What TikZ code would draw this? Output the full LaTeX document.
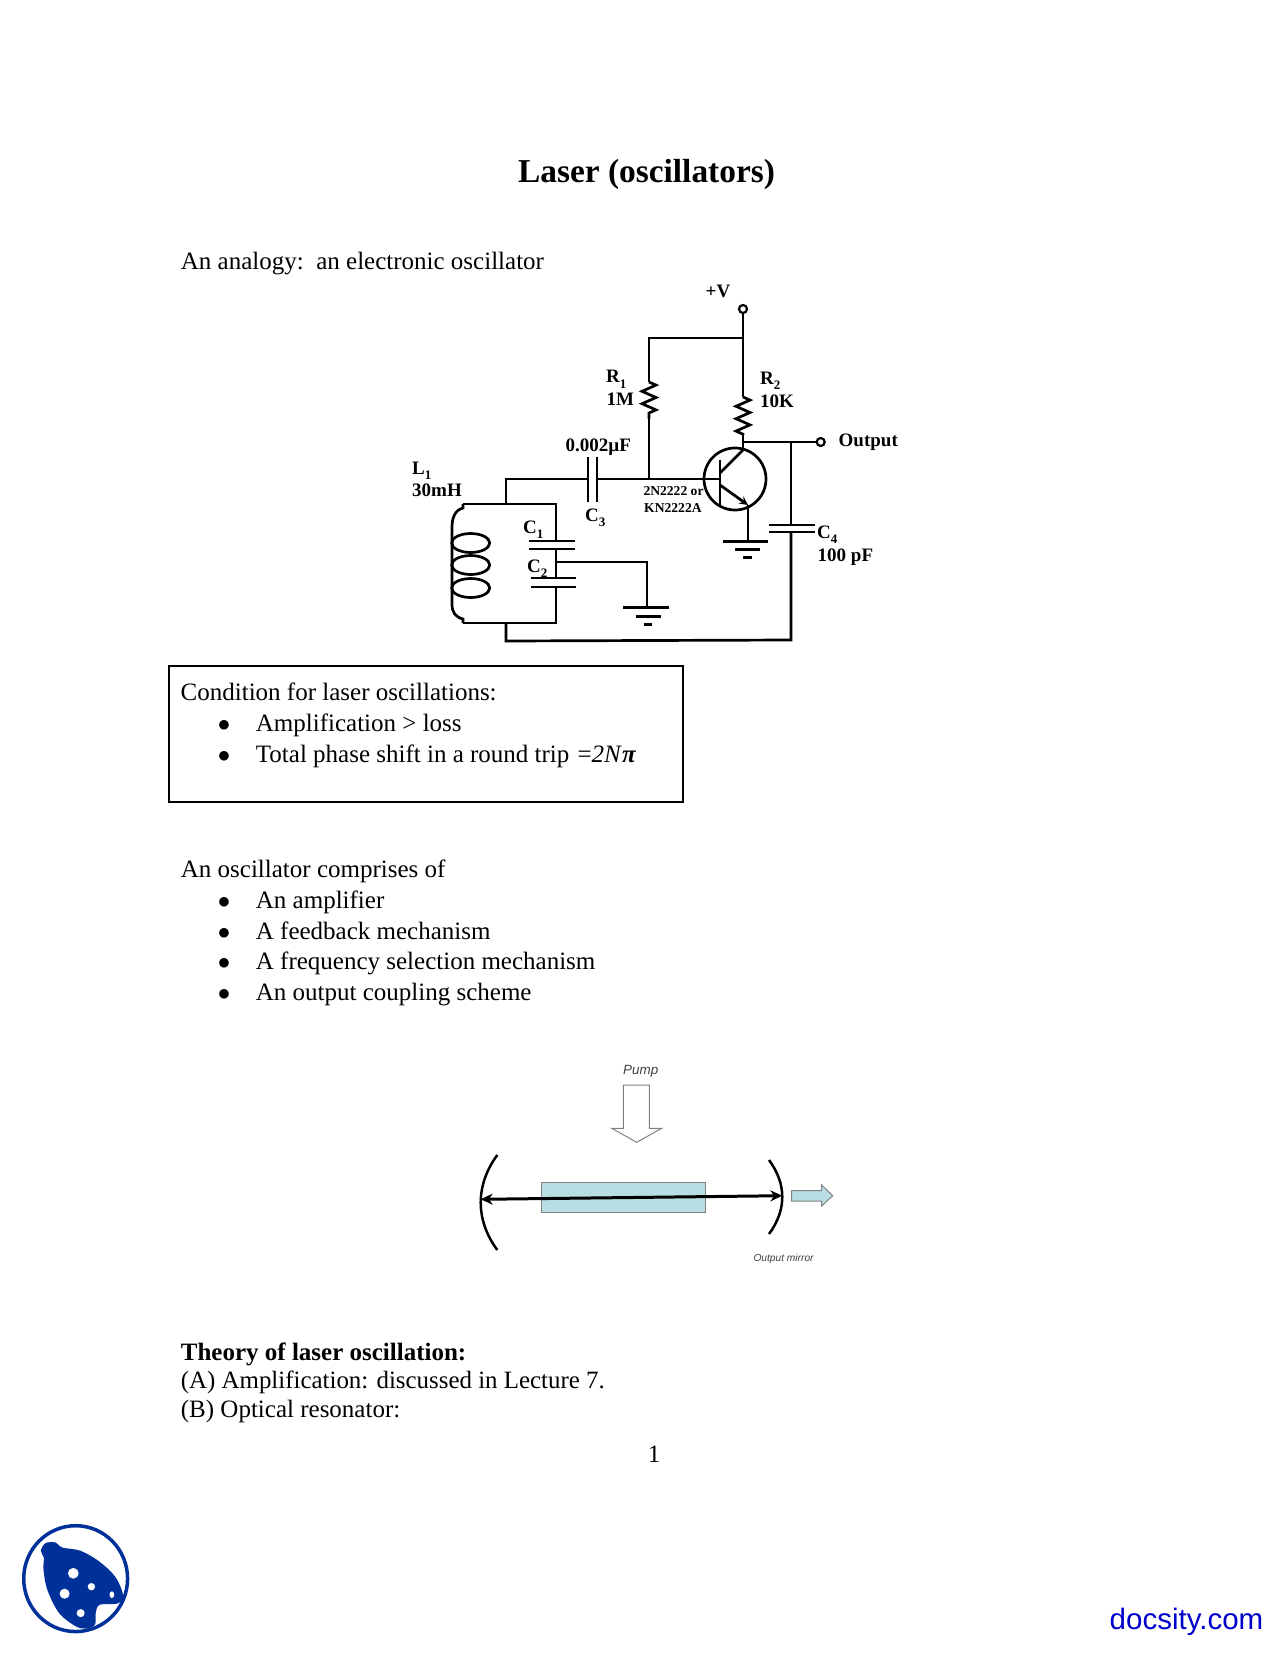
\documentclass[tikz,border=0pt]{standalone}
\usepackage{fontspec}
\setmainfont{Liberation Serif}
\newfontfamily\arialfont{Liberation Sans}
\usetikzlibrary{positioning, arrows, arrows.meta, decorations.pathmorphing, shapes.geometric}
\definecolor{rodblue}{HTML}{B8DEE3}
\definecolor{logoblue}{HTML}{00309A}
\definecolor{linkblue}{HTML}{0000CC}
\newcommand{\lowsub}[1]{\raisebox{-0.28em}{\fontsize{13}{14}\selectfont #1}}
\tikzstyle{body} = [anchor=base west, inner sep=0pt, font=\fontsize{25}{30}\selectfont]
\tikzstyle{dot} = [anchor=base, inner sep=0pt, font=\fontsize{25}{30}\selectfont]
\tikzstyle{part} = [anchor=base west, inner sep=0pt, font=\fontsize{19}{21}\selectfont\bfseries]
\tikzstyle{small} = [anchor=base west, inner sep=0pt, font=\fontsize{13.6}{15}\selectfont\bfseries]
\tikzstyle{wire} = [line width=2.7pt]
\tikzstyle{terminal} = [circle, draw, line width=2.2pt, fill=white, inner sep=0pt, minimum size=8pt]
\tikzstyle{res} = [wire, decorate, decoration={zigzag, segment length=12.4pt, amplitude=7pt}]
\tikzstyle{coil} = [ellipse, draw, line width=2.7pt, inner sep=0pt, minimum width=38pt, minimum height=19pt]
\tikzstyle{arrow} = [line width=3pt,{Stealth[length=12pt,width=11pt]}-{Stealth[length=12pt,width=11pt]}]
\tikzstyle{hollow} = [draw=black!50, line width=1pt]

\begin{document}
\begin{tikzpicture}[x=1pt, y=-1pt]
\useasboundingbox (0,0) rectangle (1280,1656);

% page text
\node (title) [anchor=base, inner sep=0pt, font=\fontsize{33.4}{36}\selectfont\bfseries] at (646.5,182.7) {Laser (oscillators)};
\node (analogy) [body] at (180.7,269) {An analogy:\ \ an electronic oscillator};
\node (condbox) [draw, line width=1.5pt, minimum width=514pt, minimum height=136pt, inner sep=0pt] at (426,734) {};
\node (cond) [body] at (180.5,700.7) {Condition for laser oscillations:};
\node (cbulA) [dot] at (224,731.7) {$\bullet$};
\node (cA) [body] at (255.7,731.7) {Amplification > loss};
\node (cbulB) [dot] at (224,762.7) {$\bullet$};
\node (cB) [body] at (255.7,762.7) {Total phase shift in a round trip\kern2pt{} =\textit{2N}\textbf{\textit{π}}};
\node (comp) [body] at (180.7,877.7) {An oscillator comprises of};
\node (bulA) [dot] at (224,908.3) {$\bullet$};
\node (itemA) [body] at (255.7,908.3) {An amplifier};
\node (bulB) [dot] at (224,939.3) {$\bullet$};
\node (itemB) [body] at (255.7,939.3) {A feedback mechanism};
\node (bulC) [dot] at (224,969.3) {$\bullet$};
\node (itemC) [body] at (255.7,969.3) {A frequency selection mechanism};
\node (bulD) [dot] at (224,1000) {$\bullet$};
\node (itemD) [body] at (255.7,1000) {An output coupling scheme};
\node (theory) [body, font=\fontsize{25}{30}\selectfont\bfseries] at (180.7,1360) {Theory of laser oscillation:};
\node (lineA) [body, font=\fontsize{24.9}{30}\selectfont] at (180.7,1388.3) {(A) Amplification: discussed in Lecture 7.};
\node (lineB) [body] at (180.7,1417.7) {(B) Optical resonator:};
\node (pageno) [dot] at (654,1462.7) {1};

% circuit points
\node (vcc) [terminal] at (743,309) {};
\node (out) [terminal] at (820.7,442) {};
\node (qone) [circle, draw, line width=2.7pt, inner sep=0pt, minimum size=62pt] at (735,479) {};
\node (coilA) [coil] at (470.7,543) {};
\node (coilB) [coil] at (470.7,565) {};
\node (coilC) [coil] at (470.7,588) {};
\coordinate (top) at (743,338);
\coordinate (topl) at (649,338);
\coordinate (raa) at (649,382);
\coordinate (rab) at (649,419);
\coordinate (base) at (649,479);
\coordinate (rba) at (743,397);
\coordinate (rbb) at (743,435);
\coordinate (coll) at (743,442);
\coordinate (collb) at (743,450);
\coordinate (bar) at (720,479);
\coordinate (cc) at (720,473);
\coordinate (ee) at (720,485);
\coordinate (emit) at (748,505);
\coordinate (gndq) at (748,541);
\coordinate (cthree) at (588,479);
\coordinate (cthreeb) at (597,479);
\coordinate (stub) at (506,479);
\coordinate (stubb) at (506,504);
\coordinate (tl) at (463,504);
\coordinate (tr) at (556,504);
\coordinate (bl) at (463,623);
\coordinate (br) at (556,623);
\coordinate (ret) at (506,623);
\coordinate (retb) at (506,641);
\coordinate (retc) at (791,640);
\coordinate (cfoura) at (791,442);
\coordinate (cfourb) at (791,525);
\coordinate (cfourc) at (791,532);
\coordinate (cone) at (556,541);
\coordinate (coneb) at (556,549);
\coordinate (mid) at (556,562);
\coordinate (ctwo) at (556,578);
\coordinate (ctwob) at (556,587);
\coordinate (gndl) at (647,562);
\coordinate (gndb) at (647,607);

% circuit wires
\draw [wire] (vcc) -- (top) -- (rba);
\draw [res] (rba) -- (rbb);
\draw [wire] (rbb) -- (collb);
\draw [wire] (top) -- (topl) -- (raa);
\draw [res] (raa) -- (rab);
\draw [wire] (rab) -- (base);
\draw [wire] (stubb) -- (stub) -- (cthree);
\draw [wire] (cthreeb) -- (bar);
\draw [wire] (cthree) ++(0,-22) -- ++(0,45);
\draw [wire] (cthreeb) ++(0,-22) -- ++(0,45);
\draw [wire] (720,460) -- (720,505);
\draw [wire] (cc) -- (collb);
\draw [wire, -stealth] (ee) -- (emit);
\draw [wire] (emit) -- (gndq);
\draw [wire] (coll) -- (out);
\draw [wire] (cfoura) -- (cfourb);
\draw [wire] (cfourc) -- (retc) -- (retb) -- (ret);
\draw [wire] (769,525) -- (815,525);
\draw [wire] (769,532) -- (815,532);
\draw [wire] (tl) -- (tr) -- (cone);
\draw [wire] (coneb) -- (ctwo);
\draw [wire] (ctwob) -- (br) -- (bl);
\draw [wire] (529,541) -- (575,541);
\draw [wire] (529,549) -- (575,549);
\draw [wire] (531,578) -- (576,578);
\draw [wire] (531,587) -- (576,587);
\draw [wire] (mid) -- (gndl) -- (gndb);
\draw [wire] (tl) -- (463,508) .. controls (455,510) and (452,518) .. (452,527) -- (452,604) .. controls (452,612) and (455,617) .. (463,619) -- (bl);

% grounds
\draw [line width=3pt] (723,541) -- (768,541);
\draw [line width=3pt] (735,549) -- (760,549);
\draw [line width=3pt] (743,557) -- (752,557);
\draw [line width=3pt] (623,607) -- (669,607);
\draw [line width=3pt] (636,616) -- (661,616);
\draw [line width=3pt] (644,624) -- (652,624);

% circuit labels
\node (vlabel) [part] at (705.5,297) {+V};
\node (rone) [part] at (606,382.7) {R\lowsub{1}};
\node (ronev) [part] at (606.5,405.7) {1M};
\node (rtwo) [part] at (760,384) {R\lowsub{2}};
\node (rtwov) [part] at (760,407.3) {10K};
\node (cthreev) [part] at (565.5,451) {0.002µF};
\node (lone) [part] at (412,474.3) {L\lowsub{1}};
\node (lonev) [part] at (412,496.7) {30mH};
\node (cthreel) [part] at (585,521) {C\lowsub{3}};
\node (qname) [small] at (643.3,495) {2N2222 or};
\node (qnameb) [small] at (644,512.3) {KN2222A};
\node (conel) [part] at (523,533.3) {C\lowsub{1}};
\node (ctwol) [part] at (527,572.3) {C\lowsub{2}};
\node (cfourl) [part] at (817,538.3) {C\lowsub{4}};
\node (cfourv) [part] at (817.5,561.7) {100 pF};
\node (outl) [part] at (838.5,446.7) {Output};

% laser
\coordinate (mla) at (497.3,1155);
\coordinate (mlb) at (497.3,1250);
\coordinate (mra) at (769,1160);
\coordinate (mrb) at (769,1234);
\coordinate (beaml) at (480.7,1199.3);
\coordinate (beamr) at (782.3,1195.7);
\node (pump) [anchor=base, inner sep=0pt, font=\arialfont\itshape\fontsize{13.4}{15}\selectfont, black!75] at (640.7,1074) {Pump};
\node (mirror) [anchor=base west, inner sep=0pt, font=\arialfont\itshape\fontsize{10.2}{12}\selectfont, black!75] at (753.3,1261.7) {Output mirror};
\node (rod) [draw=black!50, line width=1pt, fill=rodblue, inner sep=0pt, minimum width=164.7pt, minimum height=30.4pt] at (623.4,1197.5) {};
\draw [hollow, fill=white] (623.3,1085) -- (649.3,1085) -- (649.3,1128.3) -- (661.7,1128.3) -- (636.7,1142.3) -- (611.7,1128.3) -- (623.3,1128.3) -- cycle;
\draw [hollow, fill=rodblue] (791.7,1190.7) -- (821.7,1190.7) -- (821.7,1185) -- (832.7,1195.7) -- (821.7,1206) -- (821.7,1201) -- (791.7,1201) -- cycle;
\draw [line width=2.5pt] (mla) .. controls (475.2,1185) and (475.2,1220) .. (mlb);
\draw [line width=2.5pt] (mra) .. controls (786.7,1184) and (786.7,1210) .. (mrb);
\draw [arrow] (beaml) -- (beamr);

% logo and site name
\begin{scope}[shift={(12,1512.3)}, x=0.335pt, y=-0.335pt]
\draw [logoblue, line width=3.5pt] (190,198) ellipse [x radius=155, y radius=158];
\fill [logoblue] plot [smooth cycle, tension=0.55] coordinates {(86,115) (100,92) (130,90) (150,105) (205,115) (262,148) (310,195) (332,250) (315,272) (262,276) (250,300) (248,335) (222,347) (190,340) (140,300) (105,230) (94,170) (95,135)};
\fill [white] (183,182) circle [radius=16];
\fill [white] (237,222) circle [radius=11];
\fill [white] (157,243) circle [radius=15];
\fill [white] (205,301) circle [radius=12];
\fill [white] (298,246) ellipse [x radius=7, y radius=10];
\end{scope}
\node (site) [anchor=base west, inner sep=0pt, font=\arialfont\fontsize{29.5}{32}\selectfont, linkblue] at (1109.5,1629) {docsity.com};
\end{tikzpicture}
\end{document}
